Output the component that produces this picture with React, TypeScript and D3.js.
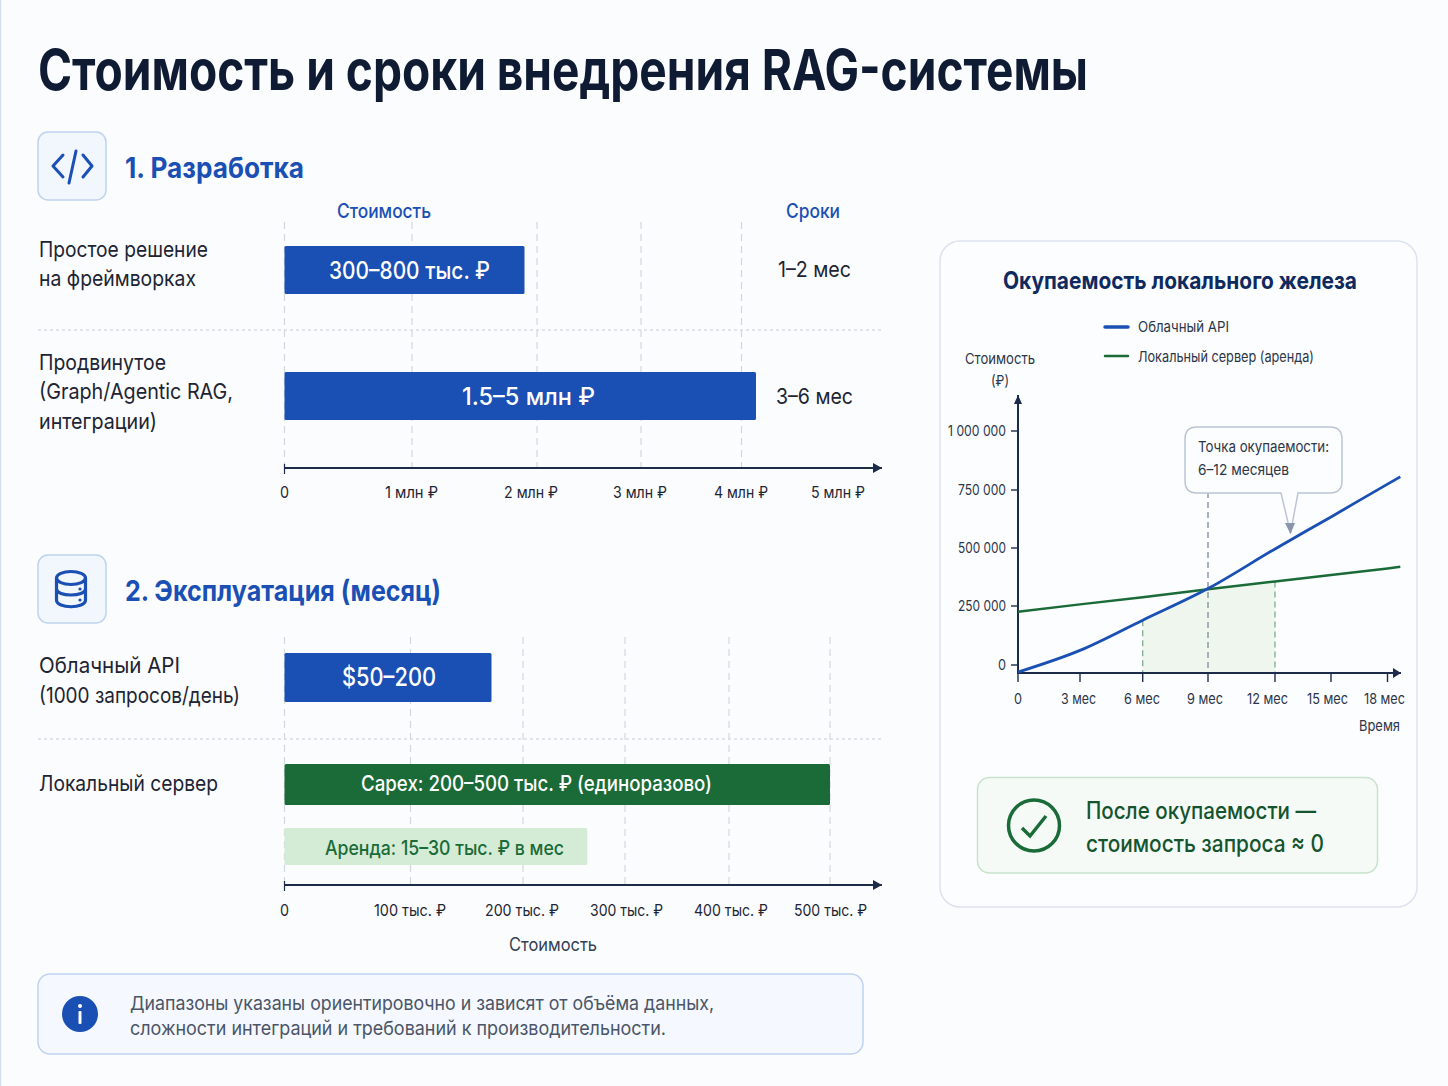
import React from "react";
import * as d3 from "d3";

const devTickValues = [0, 1, 2, 3, 4, 5];
const devTickLabels = ["0", "1 млн ₽", "2 млн ₽", "3 млн ₽", "4 млн ₽", "5 млн ₽"];
const devCategories = [["Простое решение", "на фреймворках"], ["Продвинутое", "(Graph/Agentic RAG,", "интеграции)"]];
const devValues = [1.9, 4.15];
const devBarLabels = ["300–800 тыс. ₽", "1.5–5 млн ₽"];
const devDurations = ["1–2 мес", "3–6 мес"];

const opsTickValues = [0, 100, 200, 300, 400, 500];
const opsTickLabels = ["0", "100 тыс. ₽", "200 тыс. ₽", "300 тыс. ₽", "400 тыс. ₽", "500 тыс. ₽"];
const opsValues = [172, 500, 263];
const opsBarLabels = ["$50–200", "Capex: 200–500 тыс. ₽ (единоразово)", "Аренда: 15–30 тыс. ₽ в мес"];

const months = [0, 3, 6, 9, 12, 15, 18, 18.68];
const cloudApi = [-30000, 62000, 190000, 325000, 496000, 634000, 775000, 806000];
const localServer = [226000, 257000, 288000, 322000, 356000, 384000, 412000, 419000];
const paybackMonths = [6, 9, 12];
const paybackFloor = [190000, 325000, 356000];
const yTicks = [0, 250000, 500000, 750000, 1000000];
const yTickLabels = ["0", "250 000", "500 000", "750 000", "1 000 000"];
const xTicks = [0, 3, 6, 9, 12, 15, 18];
const xTickLabels = ["0", "3 мес", "6 мес", "9 мес", "12 мес", "15 мес", "18 мес"];

const BLUE = "#1a4fb4";
const GREEN = "#1a6b37";
const INK = "#1d2433";
const FONT = "Inter, 'Noto Sans', sans-serif";

const devX = d3.scaleLinear().domain(devTickValues).range([284.5, 412, 537, 641, 741.5, 838]);
const opsX = d3.scaleLinear().domain(opsTickValues).range([284.5, 410.5, 523, 625, 729, 830]);
const chartX = d3.scaleLinear().domain(xTicks).range([1018, 1080, 1142.7, 1208, 1275, 1331, 1387.5]);
const chartY = d3.scaleLinear().domain(yTicks).range([665, 606, 548, 490, 431]);

function T({ x, y, w, size, fill = INK, weight = 400, anchor = "start", children }: any) {
  return (
    <text x={x} y={y} fontSize={size} fill={fill} fontWeight={weight} textAnchor={anchor}
      textLength={w} lengthAdjust="spacingAndGlyphs" fontFamily={FONT}>{children}</text>
  );
}

function Arrow({ x1, y1, x2, y2, color = "#1c2b4a", width = 2, len = 9, half = 5 }: any) {
  const horizontal = y1 === y2;
  const pts = horizontal
    ? `${x2 - len},${y2 - half} ${x2},${y2} ${x2 - len},${y2 + half}`
    : `${x2 - half},${y2 + len} ${x2},${y2} ${x2 + half},${y2 + len}`;
  return (
    <g>
      <line x1={x1} y1={y1} x2={x2} y2={y2} stroke={color} strokeWidth={width} />
      <polygon points={pts} fill={color} />
    </g>
  );
}

function IconBox({ y }: { y: number }) {
  return <rect x={38} y={y} width={68} height={68} rx={10} fill="#f2f6fd" stroke="#bfd3f0" strokeWidth={1.5} />;
}

export default function App() {
  const cloudPath = d3.line<number>().x((_, i) => chartX(months[i])).y((d) => chartY(d)).curve(d3.curveMonotoneX)(cloudApi);
  const localPath = d3.line<number>().x((_, i) => chartX(months[i])).y((d) => chartY(d))(localServer);
  const areaPath = d3.area<number>().x((_, i) => chartX(paybackMonths[i])).y0(673).y1((d) => chartY(d))(paybackFloor);

  const devLabelX = [284.5, 411.5, 531, 640, 741, 838];
  const devLabelW = [9, 53, 54, 54, 54, 54];
  const opsLabelX = [284.5, 410, 522, 626.5, 731, 830.5];
  const opsLabelW = [9, 72, 74, 73, 74, 73];
  const xLabelX = [1018, 1078.5, 1142, 1205, 1267.5, 1327.5, 1384.5];
  const xLabelW = [8, 35, 36, 36, 41, 41, 41];
  const yLabelW = [8, 48, 48, 48, 58];

  const devBars = [
    { y: 246, h: 48, tx: 329, tw: 161, ty: 279, dx: 778, dw: 73, dy: 277 },
    { y: 372, h: 48, tx: 462, tw: 133, ty: 405, dx: 776, dw: 77, dy: 404 },
  ];
  const devLines = [
    [{ y: 257, w: 169 }, { y: 286, w: 157 }],
    [{ y: 370, w: 127 }, { y: 399, w: 194 }, { y: 429, w: 118 }],
  ];
  const opsBars = [
    { y: 653, h: 49, fill: BLUE, tf: "#fff", tx: 342, tw: 94, ty: 686, size: 26, wt: 500 },
    { y: 764, h: 41, fill: GREEN, tf: "#fff", tx: 361, tw: 351, ty: 791, size: 21, wt: 500 },
    { y: 828, h: 37, fill: "#d4ebd6", tf: GREEN, tx: 325, tw: 239, ty: 855, size: 20, wt: 500 },
  ];

  return (
    <svg width={1448} height={1086} viewBox="0 0 1448 1086"
      style={{ position: "absolute", left: 0, top: 0, display: "block" }}>
      <defs>
        <clipPath id="chartClip"><rect x={1016} y={390} width={386} height={290} /></clipPath>
      </defs>
      <rect width={1448} height={1086} fill="#fbfcfe" />
      <line x1={0.5} y1={0} x2={0.5} y2={1086} stroke="#d5ddf0" strokeWidth={1.5} />

      <T x={38} y={90} w={1050} size={56} fill="#0f1b33" weight={700}>Стоимость и сроки внедрения RAG-системы</T>

      {/* Section 1 */}
      <IconBox y={132} />
      <g fill="none" stroke={BLUE} strokeWidth={3} strokeLinecap="round" strokeLinejoin="round">
        <polyline points="63,155 53,166 63,177" />
        <polyline points="83,155 92,166 83,177" />
        <line x1={76} y1={151} x2={69} y2={183} />
      </g>
      <T x={125} y={178} w={179} size={29} fill={BLUE} weight={700}>1. Разработка</T>
      <T x={337} y={218} w={94} size={20} fill={BLUE} weight={500}>Стоимость</T>
      <T x={786} y={218} w={54} size={20} fill={BLUE} weight={500}>Сроки</T>

      {devTickValues.slice(0, 5).map((v) => (
        <line key={v} x1={devX(v)} x2={devX(v)} y1={222} y2={468} stroke="#d2d7de" strokeWidth={1.2} strokeDasharray="7 5" />
      ))}
      <line x1={38} x2={882} y1={330} y2={330} stroke="#d8dde4" strokeWidth={1.3} strokeDasharray="3 3" />
      {devValues.map((v, i) => {
        const b = devBars[i];
        return (
          <g key={i}>
            {devCategories[i].map((s, j) => (
              <T key={j} x={39} y={devLines[i][j].y} w={devLines[i][j].w} size={22}>{s}</T>
            ))}
            <rect x={devX(0)} y={b.y} width={devX(v) - devX(0)} height={b.h} rx={1.5} fill={BLUE} />
            <T x={b.tx} y={b.ty} w={b.tw} size={24} fill="#fff" weight={500}>{devBarLabels[i]}</T>
            <T x={b.dx} y={b.dy} w={b.dw} size={22}>{devDurations[i]}</T>
          </g>
        );
      })}
      <line x1={284.5} x2={284.5} y1={464} y2={474} stroke="#1c2b4a" strokeWidth={1.2} />
      <Arrow x1={284} y1={468} x2={882} y2={468} />
      {devTickLabels.map((s, i) => (
        <T key={i} x={devLabelX[i]} y={498} w={devLabelW[i]} size={16} anchor="middle">{s}</T>
      ))}

      {/* Section 2 */}
      <IconBox y={555} />
      <g fill="none" stroke={BLUE} strokeWidth={3.2}>
        <ellipse cx={71} cy={578} rx={14.5} ry={6.5} />
        <path d="M56.5,578 V600 C56.5,609 85.5,609 85.5,600 V578" />
        <path d="M56.5,589 C56.5,597 85.5,597 85.5,589" />
      </g>
      <circle cx={80} cy={589} r={1.6} fill={BLUE} />
      <circle cx={80} cy={600} r={1.6} fill={BLUE} />
      <T x={125} y={601} w={316} size={29} fill={BLUE} weight={700}>2. Эксплуатация (месяц)</T>

      {opsTickValues.map((v) => (
        <line key={v} x1={opsX(v)} x2={opsX(v)} y1={637} y2={885} stroke="#d2d7de" strokeWidth={1.2} strokeDasharray="7 5" />
      ))}
      <line x1={38} x2={882} y1={739} y2={739} stroke="#d8dde4" strokeWidth={1.3} strokeDasharray="3 3" />
      <T x={39} y={673} w={141} size={22}>Облачный API</T>
      <T x={39} y={703} w={201} size={22}>(1000 запросов/день)</T>
      <T x={39} y={791} w={179} size={22}>Локальный сервер</T>
      {opsValues.map((v, i) => {
        const b = opsBars[i];
        return (
          <g key={i}>
            <rect x={opsX(0)} y={b.y} width={opsX(v) - opsX(0)} height={b.h} rx={1.5} fill={b.fill} />
            <T x={b.tx} y={b.ty} w={b.tw} size={b.size} fill={b.tf} weight={b.wt}>{opsBarLabels[i]}</T>
          </g>
        );
      })}
      <line x1={284.5} x2={284.5} y1={881} y2={891} stroke="#1c2b4a" strokeWidth={1.2} />
      <Arrow x1={284} y1={885} x2={882} y2={885} />
      {opsTickLabels.map((s, i) => (
        <T key={i} x={opsLabelX[i]} y={916} w={opsLabelW[i]} size={16} anchor="middle">{s}</T>
      ))}
      <T x={509} y={951} w={88} size={18} fill="#333f52">Стоимость</T>

      {/* Note */}
      <rect x={38} y={974} width={825} height={80} rx={12} fill="#f5f8fe" stroke="#bfd3f0" strokeWidth={1.5} />
      <circle cx={80} cy={1014} r={18} fill={BLUE} />
      <circle cx={80} cy={1006} r={2} fill="#fff" />
      <rect x={78.5} y={1011} width={3} height={13} rx={1} fill="#fff" />
      <T x={130} y={1010} w={584} size={19} fill="#4a5568">Диапазоны указаны ориентировочно и зависят от объёма данных,</T>
      <T x={130} y={1035} w={536} size={19} fill="#4a5568">сложности интеграций и требований к производительности.</T>

      {/* Right panel */}
      <rect x={940} y={241} width={477} height={666} rx={20} fill="#fcfdff" stroke="#dde2ee" strokeWidth={1.5} />
      <T x={1003} y={289} w={354} size={24} fill="#0f2a5f" weight={700}>Окупаемость локального железа</T>
      <line x1={1105} x2={1128} y1={327} y2={327} stroke={BLUE} strokeWidth={3.5} strokeLinecap="round" />
      <line x1={1105} x2={1128} y1={356} y2={356} stroke={GREEN} strokeWidth={2.5} strokeLinecap="round" />
      <T x={1138} y={332} w={91} size={15} fill="#2b3648">Облачный API</T>
      <T x={1138} y={362} w={176} size={15} fill="#2b3648">Локальный сервер (аренда)</T>
      <T x={1000} y={364} w={70} size={15} fill="#2b3648" anchor="middle">Стоимость</T>
      <T x={1000} y={386} w={18} size={15} fill="#2b3648" anchor="middle">(₽)</T>

      <path d={areaPath!} fill="#eef6ee" />
      <line x1={chartX(6)} x2={chartX(6)} y1={chartY(190000)} y2={673} stroke="#7fae8e" strokeWidth={1.3} strokeDasharray="6 4" />
      <line x1={chartX(12)} x2={chartX(12)} y1={chartY(356000)} y2={673} stroke="#7fae8e" strokeWidth={1.3} strokeDasharray="6 4" />
      <line x1={chartX(9)} x2={chartX(9)} y1={492} y2={673} stroke="#7c8a9e" strokeWidth={1.3} strokeDasharray="6 4" />

      <Arrow x1={1018} y1={674} x2={1018} y2={395} width={2} len={9} half={4} />
      <Arrow x1={1017} y1={673} x2={1401} y2={673} width={2} len={8} half={5} />
      {yTicks.map((v, i) => (
        <g key={v}>
          <line x1={1011} x2={1018} y1={chartY(v)} y2={chartY(v)} stroke="#1c2b4a" strokeWidth={1.4} />
          <T x={1006} y={chartY(v) + 5} w={yLabelW[i]} size={15} fill="#2b3648" anchor="end">{yTickLabels[i]}</T>
        </g>
      ))}
      {xTicks.map((v, i) => (
        <g key={v}>
          <line x1={chartX(v)} x2={chartX(v)} y1={673} y2={682} stroke="#1c2b4a" strokeWidth={1.4} />
          <T x={xLabelX[i]} y={704} w={xLabelW[i]} size={15} fill="#2b3648" anchor="middle">{xTickLabels[i]}</T>
        </g>
      ))}
      <T x={1359} y={731} w={41} size={15} fill="#2b3648">Время</T>

      <g clipPath="url(#chartClip)">
        <path d={localPath!} fill="none" stroke={GREEN} strokeWidth={2.5} />
        <path d={cloudPath!} fill="none" stroke={BLUE} strokeWidth={2.8} />
      </g>

      <path d="M1197,427 H1330 Q1342,427 1342,439 V481 Q1342,493 1330,493 H1298 L1290.5,533 L1281,493 H1197 Q1185,493 1185,481 V439 Q1185,427 1197,427 Z"
        fill="#fcfdff" stroke="#bcc5d6" strokeWidth={1.5} />
      <polygon points="1285,523 1295,523 1290.5,534" fill="#8a96ab" />
      <T x={1198} y={452} w={131} size={15} fill="#2b3648">Точка окупаемости:</T>
      <T x={1198} y={475} w={91} size={15} fill="#2b3648">6–12 месяцев</T>

      <rect x={977.5} y={777.5} width={400} height={95.5} rx={12} fill="#f5faf6" stroke="#c8e3cc" strokeWidth={1.5} />
      <circle cx={1034} cy={825.5} r={25.5} fill="none" stroke={GREEN} strokeWidth={3.5} />
      <polyline points="1022,828 1030,836 1046,816" fill="none" stroke={GREEN} strokeWidth={3.5} />
      <T x={1086} y={819} w={230} size={24} fill="#14542e" weight={500}>После окупаемости —</T>
      <T x={1086} y={852} w={238} size={24} fill="#14542e" weight={500}>стоимость запроса ≈ 0</T>
    </svg>
  );
}
